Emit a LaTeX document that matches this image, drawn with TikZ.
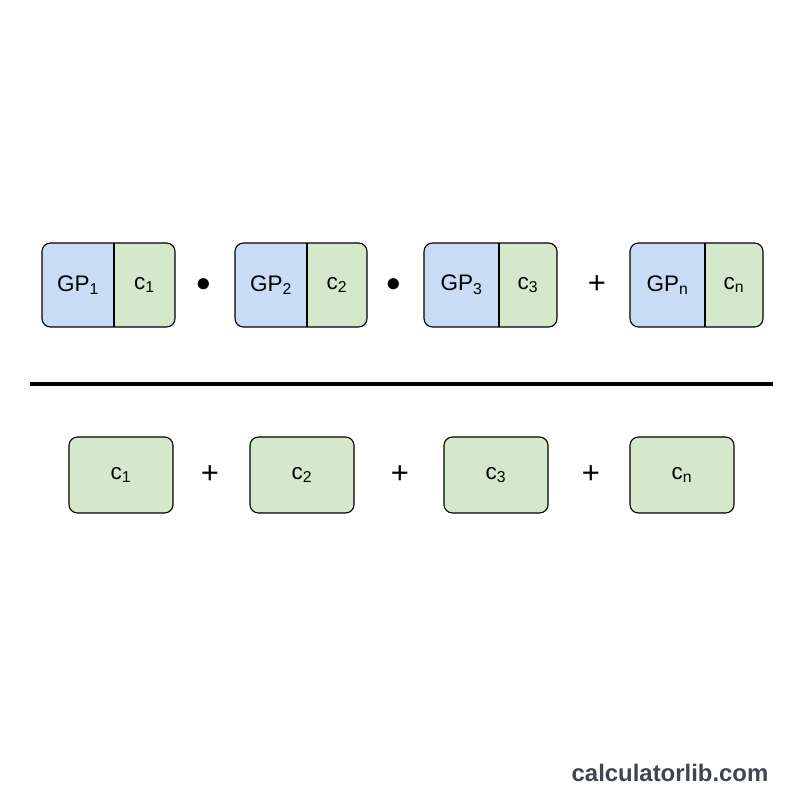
\documentclass[tikz,border=0pt]{standalone}
\usepackage{fontspec}
\setmainfont{Liberation Sans}
\definecolor{gpblue}{HTML}{C9DCF5}
\definecolor{cgreen}{HTML}{D5E8CC}
\definecolor{markgray}{HTML}{3E4653}
\tikzset{
  lbl/.style={font=\fontsize{16}{19}\selectfont},
  cbox/.style={draw, thick, rounded corners=6, fill=cgreen, minimum width=74pt, minimum height=54pt,
    inner sep=0pt, font=\fontsize{16}{19}\selectfont},
  op/.style={font=\fontsize{22}{24}\selectfont}
}
\begin{document}
\begin{tikzpicture}[x=0.025cm,y=-0.025cm]
        \useasboundingbox[fill=white] (0,0) rectangle (800,800);

        %%%%%%%%% Numeratore %%%%%%%%%
        \foreach \l/\m/\r/\i in {42/114/175/1,235/307/367/2,424/499/557/3,630/705/763/n}{
            \begin{scope}
                \clip[rounded corners=6] (\l,243) rectangle (\r,327);
                \fill[gpblue] (\l,243) rectangle (\m,327);
                \fill[cgreen] (\m,243) rectangle (\r,327);
            \end{scope}
            \draw[thick] (\m,243) -- (\m,327);
            \draw[thick, rounded corners=6] (\l,243) rectangle (\r,327);
            \node[lbl] (gp\i) at ({(\l+\m)/2},285) {GP$_{\mathrm{\i}}$};
            \node[lbl] (c\i) at ({(\m+\r)/2},285) {c$_{\mathrm{\i}}$};
        }
        \node[op] (m1) at (204,285) {$\bullet$};
        \node[op] (m2) at (394,285) {$\bullet$};
        \node[op] (p0) at (597,285) {+};

        %%%%%%%%% Linea %%%%%%%%%
        \draw[line width=2.2pt] (30,384) -- (773,384);

        %%%%%%%% Denominatore %%%%%%%%
        \node[cbox] (d1) at (121,475) {c$_{\mathrm{1}}$};
        \node[cbox] (d2) at (302,475) {c$_{\mathrm{2}}$};
        \node[cbox] (d3) at (496,475) {c$_{\mathrm{3}}$};
        \node[cbox] (dn) at (682,475) {c$_{\mathrm{n}}$};
        \node[op] (p1) at (210,475) {+};
        \node[op] (p2) at (400,475) {+};
        \node[op] (p3) at (591,475) {+};

        \node[font=\bfseries\fontsize{17}{20}\selectfont, text=markgray] (wm) at (670,773) {calculatorlib.com};
    \end{tikzpicture}
\end{document}
